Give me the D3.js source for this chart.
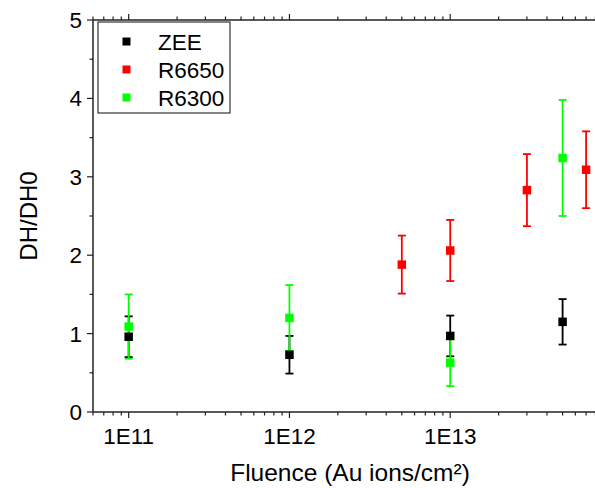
<!DOCTYPE html>
<html>
<head>
<meta charset="utf-8">
<script src="https://cdn.jsdelivr.net/npm/d3@7/dist/d3.min.js"></script>
<style>
  body { margin: 0; background: #fff; }
  svg { display: block; }
  text { font-family: "Liberation Sans", Arial, sans-serif; fill: #000; }
</style>
</head>
<body>
<div id="chart"></div>
<script>
// data
var zeeX = [1e11, 1e12, 1e13, 5e13],
    zeeY = [0.96, 0.73, 0.97, 1.15],
    zeeErr = [0.26, 0.24, 0.26, 0.29];

var r6650X = [5e12, 1e13, 3e13, 7e13],
    r6650Y = [1.88, 2.06, 2.83, 3.09],
    r6650Err = [0.37, 0.39, 0.46, 0.49];

var r6300X = [1e11, 1e12, 1e13, 5e13],
    r6300Y = [1.09, 1.20, 0.63, 3.24],
    r6300Err = [0.41, 0.42, 0.30, 0.74];

var xTicks = [1e11, 1e12, 1e13];
var xTickLabels = ["1E11", "1E12", "1E13"];
var yTicks = [0, 1, 2, 3, 4, 5];

var seriesNames = ["ZEE", "R6650", "R6300"];
var seriesColors = ["#000000", "#ff0000", "#00ff00"];

var W = 595, H = 488;
var margin = {top: 20, left: 93, bottom: 76};
var plotRight = 611; // plot runs past the picture's right edge

var svg = d3.select("#chart").append("svg")
    .attr("width", W)
    .attr("height", H);

var x = d3.scaleLog().domain([6e10, 1e14]).range([margin.left, plotRight]);
var y = d3.scaleLinear().domain([0, 5]).range([H - margin.bottom, margin.top]);

// minor ticks
var xMinor = [];
[1e10, 1e11, 1e12, 1e13].forEach(function(d) {
  for (var k = 2; k <= 9; k++) {
    var v = d * k;
    if (v >= 6e10 && v <= 1e14) xMinor.push(v);
  }
});
var yMinor = [0.5, 1.5, 2.5, 3.5, 4.5];

var axisCol = "#222";

// bottom axis
var gb = svg.append("g").attr("transform", "translate(0," + y(0) + ")");
gb.append("line").attr("x1", margin.left).attr("x2", plotRight)
  .attr("stroke", axisCol).attr("stroke-width", 1.5);
gb.selectAll(".mj").data(xTicks).enter().append("line")
  .attr("x1", x).attr("x2", x).attr("y1", 0).attr("y2", 6)
  .attr("stroke", axisCol).attr("stroke-width", 1.2);
gb.selectAll(".mn").data(xMinor).enter().append("line")
  .attr("x1", x).attr("x2", x).attr("y1", 0).attr("y2", 3.5)
  .attr("stroke", axisCol).attr("stroke-width", 1.2);
gb.selectAll(".lb").data(xTicks).enter().append("text")
  .attr("x", x).attr("y", 32)
  .attr("text-anchor", "middle")
  .style("font-size", "22.5px")
  .text(function(d, i) { return xTickLabels[i]; });

// top axis
var gt = svg.append("g").attr("transform", "translate(0," + y(5) + ")");
gt.append("line").attr("x1", margin.left).attr("x2", plotRight)
  .attr("stroke", axisCol).attr("stroke-width", 1.5);
gt.selectAll(".mj").data(xTicks).enter().append("line")
  .attr("x1", x).attr("x2", x).attr("y1", 0).attr("y2", -6)
  .attr("stroke", axisCol).attr("stroke-width", 1.2);
gt.selectAll(".mn").data(xMinor).enter().append("line")
  .attr("x1", x).attr("x2", x).attr("y1", 0).attr("y2", -3.5)
  .attr("stroke", axisCol).attr("stroke-width", 1.2);

// left axis
var gl = svg.append("g").attr("transform", "translate(" + margin.left + ",0)");
gl.append("line").attr("y1", y(0)).attr("y2", y(5))
  .attr("stroke", axisCol).attr("stroke-width", 1.5);
gl.selectAll(".mj").data(yTicks).enter().append("line")
  .attr("y1", y).attr("y2", y).attr("x1", 0).attr("x2", -6)
  .attr("stroke", axisCol).attr("stroke-width", 1.2);
gl.selectAll(".mn").data(yMinor).enter().append("line")
  .attr("y1", y).attr("y2", y).attr("x1", 0).attr("x2", -3.5)
  .attr("stroke", axisCol).attr("stroke-width", 1.2);
gl.selectAll(".lb").data(yTicks).enter().append("text")
  .attr("x", -11).attr("y", function(d) { return y(d) + 8; })
  .attr("text-anchor", "end")
  .style("font-size", "22.5px")
  .text(function(d) { return d; });

// axis titles
svg.append("text")
  .attr("x", (222 + 478) / 2).attr("y", 481)
  .attr("text-anchor", "middle")
  .style("font-size", "24.5px")
  .text("Fluence (Au ions/cm²)");

svg.append("text")
  .attr("transform", "translate(37," + ((y(0) + y(5)) / 2) + ") rotate(-90)")
  .attr("text-anchor", "middle")
  .style("font-size", "24px")
  .text("DH/DH0");

// data
var series = [
  {xs: zeeX, ys: zeeY, es: zeeErr},
  {xs: r6650X, ys: r6650Y, es: r6650Err},
  {xs: r6300X, ys: r6300Y, es: r6300Err}
].map(function(s, i) {
  return s.xs.map(function(v, j) {
    return {x: v, y: s.ys[j], e: s.es[j], color: seriesColors[i]};
  });
});

var plot = svg.append("g");
var cap = 4;

// error bars first, then symbols on top
series.forEach(function(pts) {
  var eb = plot.selectAll(null).data(pts).enter().append("g")
    .attr("stroke", function(d) { return d.color; })
    .attr("stroke-width", 1.8);
  eb.append("line")
    .attr("x1", function(d) { return x(d.x); })
    .attr("x2", function(d) { return x(d.x); })
    .attr("y1", function(d) { return y(d.y - d.e); })
    .attr("y2", function(d) { return y(d.y + d.e); });
  eb.append("line")
    .attr("x1", function(d) { return x(d.x) - cap; })
    .attr("x2", function(d) { return x(d.x) + cap; })
    .attr("y1", function(d) { return y(d.y + d.e); })
    .attr("y2", function(d) { return y(d.y + d.e); });
  eb.append("line")
    .attr("x1", function(d) { return x(d.x) - cap; })
    .attr("x2", function(d) { return x(d.x) + cap; })
    .attr("y1", function(d) { return y(d.y - d.e); })
    .attr("y2", function(d) { return y(d.y - d.e); });
});

var sq = 8.5;
series.forEach(function(pts) {
  plot.selectAll(null).data(pts).enter().append("rect")
    .attr("x", function(d) { return x(d.x) - sq / 2; })
    .attr("y", function(d) { return y(d.y) - sq / 2; })
    .attr("width", sq).attr("height", sq)
    .attr("fill", function(d) { return d.color; });
});

// legend
var lg = svg.append("g").attr("transform", "translate(98,22)");
lg.append("rect").attr("width", 132).attr("height", 91)
  .attr("fill", "#fff").attr("stroke", "#333").attr("stroke-width", 1.2);
seriesNames.forEach(function(name, i) {
  var cy = 19.5 + i * 28;
  lg.append("rect")
    .attr("x", 28.5 - 4).attr("y", cy - 4)
    .attr("width", 8).attr("height", 8)
    .attr("fill", seriesColors[i]);
  lg.append("text")
    .attr("x", 60).attr("y", cy + 8)
    .style("font-size", "22.5px")
    .text(name);
});
</script>
</body>
</html>
